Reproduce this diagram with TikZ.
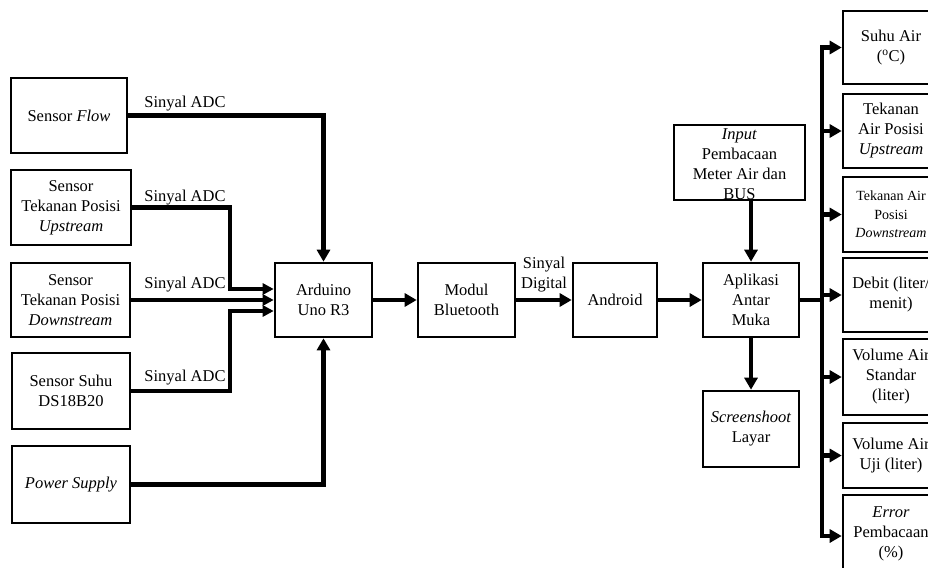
\documentclass[tikz,border=0pt]{standalone}
\usepackage{fontspec}
\setmainfont{Liberation Serif}
\usetikzlibrary{arrows.meta}
\tikzset{
  box/.style={draw, line width=2.6pt, inner sep=0pt, align=center, font=\fontsize{16.5}{20}\selectfont},
  smallbox/.style={box, font=\fontsize{14}{18.5}\selectfont},
  txt/.style={inner sep=0pt, align=center, font=\fontsize{16.5}{20}\selectfont},
  conn/.style={line width=4.5pt, -{Triangle[length=12pt,width=13pt]}},
  connn/.style={line width=4.5pt, -{Triangle[length=11pt,width=11pt]}},
  wire/.style={line width=4.5pt},
}
\begin{document}
\begin{tikzpicture}[x=1pt,y=-1pt]
\useasboundingbox (0,0) rectangle (928,567);
\clip (0,0) rectangle (928,567);
% left sensors
\node[box, minimum width=116pt, minimum height=75pt] (flow) at (69,115.5) {Sensor \textit{Flow}};
\node[box, minimum width=120pt, minimum height=75pt] (up) at (71,207.5) {Sensor\\Tekanan Posisi\\\textit{Upstream}};
\node[box, minimum width=119pt, minimum height=74pt] (down) at (70.5,300) {Sensor\\Tekanan Posisi\\\textit{Downstream}};
\node[box, minimum width=118pt, minimum height=76pt] (suhu) at (71,391) {Sensor Suhu\\DS18B20};
\node[box, minimum width=118pt, minimum height=77pt] (power) at (71,484.5) {\textit{Power Supply}};
% main chain
\node[box, minimum width=97pt, minimum height=74pt] (ard) at (323.5,300) {Arduino\\Uno R3};
\node[box, minimum width=97pt, minimum height=74pt] (bt) at (466.5,300) {Modul\\Bluetooth};
\node[box, minimum width=84pt, minimum height=74pt] (andr) at (615,300) {Android};
\node[box, minimum width=96pt, minimum height=74pt] (apl) at (751,300) {Aplikasi\\Antar\\Muka};
\node[box, minimum width=131pt, minimum height=75pt] (inp) at (739.5,162.5) {};
\node[txt] (inptxt) at (739.5,164.5) {\textit{Input}\\Pembacaan\\Meter Air dan\\BUS};
\node[box, minimum width=96pt, minimum height=76pt] (ss) at (751,429) {\textit{Screenshoot}\\Layar};
% right outputs
\node[box, minimum width=96pt, minimum height=73pt] (o1) at (891,47.5) {Suhu Air\\(\textsuperscript{o}C)};
\node[box, minimum width=96pt, minimum height=74pt] (o2) at (891,131) {Tekanan\\Air Posisi\\\textit{Upstream}};
\node[smallbox, minimum width=96pt, minimum height=75pt] (o3) at (891,214.5) {Tekanan Air\\Posisi\\\textit{Downstream}};
\node[box, minimum width=96pt, minimum height=74pt] (o4) at (891,295) {Debit (liter/\\menit)};
\node[box, minimum width=96pt, minimum height=76pt] (o5) at (891,377) {Volume Air\\Standar\\(liter)};
\node[box, minimum width=96pt, minimum height=65pt] (o6) at (891,455.5) {Volume Air\\Uji (liter)};
\node[box, minimum width=96pt, minimum height=82pt] (o7) at (891,536) {};
\node[txt] (o7txt) at (891,534) {\textit{Error}\\Pembacaan\\(\%)};
% labels
\node[txt] (l1) at (185,104) {Sinyal ADC};
\node[txt] (l2) at (185,198) {Sinyal ADC};
\node[txt] (l3) at (185,285) {Sinyal ADC};
\node[txt] (l4) at (185,378) {Sinyal ADC};
\node[txt] (l5) at (544,275) {Sinyal\\Digital};
% helper coordinates
\coordinate (bx) at (230,0);
\coordinate (busx) at (822,0);
\coordinate (a1) at ([yshift=11pt]ard.west);
\coordinate (a3) at ([yshift=-11pt]ard.west);
% left connectors
\draw[conn] (flow.east) -| (ard.north);
\draw[connn] (up.east) -| (bx |- a1) -- (a1);
\draw[connn] (down.east) -- (ard.west);
\draw[connn] (suhu.east) -| (bx |- a3) -- (a3);
\draw[conn] (power.east) -| (ard.south);
% chain
\draw[conn] (ard.east) -- (bt.west);
\draw[conn] (bt.east) -- (andr.west);
\draw[conn] (andr.east) -- (apl.west);
\draw[conn] (apl.north |- inp.south) -- (apl.north);
\draw[conn] (apl.south) -- (ss.north);
% bus
\draw[wire] (apl.east) -- (busx |- apl.east);
\draw[wire, line cap=rect] (busx |- o1.west) -- (busx |- o7.west);
\foreach \n in {o1,o2,o3,o4,o5,o6,o7}{
  \draw[conn] (busx |- \n.west) -- (\n.west);
}
\end{tikzpicture}
\end{document}
